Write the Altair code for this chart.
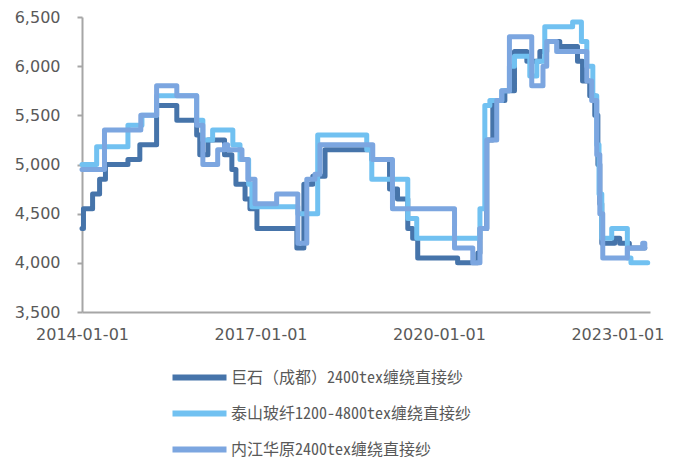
import altair as alt
import pandas as pd

series_names = [
    "巨石（成都）2400tex缠绕直接纱",
    "泰山玻纤1200-4800tex缠绕直接纱",
    "内江华原2400tex缠绕直接纱",
]
colors = ["#4674AA", "#71C1F1", "#7CA6E0"]

jushi_dates = [
    "2014-01-01", "2014-01-10", "2014-03-07", "2014-04-19", "2014-05-25", "2014-10-10",
    "2014-12-22", "2015-04-04", "2015-08-06", "2015-12-06", "2015-12-25", "2016-02-13",
    "2016-05-25", "2016-07-09", "2016-08-03", "2016-09-28", "2016-10-28", "2016-12-10",
    "2017-08-12", "2017-09-24", "2017-11-18", "2018-02-01", "2018-11-15", "2019-03-04",
    "2019-04-22", "2019-06-24", "2019-07-24", "2019-08-24", "2020-04-25", "2020-08-27",
    "2020-09-09", "2020-10-21", "2020-11-27", "2021-02-09", "2021-04-09", "2021-06-24",
    "2021-09-12", "2021-10-24", "2022-01-12", "2022-05-01", "2022-06-01", "2022-07-15",
    "2022-08-15", "2022-09-03", "2022-09-15", "2022-09-27", "2022-12-15", "2023-01-15",
    "2023-03-15", "2023-06-18",
]
jushi_values = [
    4350, 4550, 4700, 4850, 5000, 5050,
    5200, 5600, 5450, 5300, 5100, 5250,
    5100, 4950, 4800, 4650, 4550, 4350,
    4150, 4800, 4880, 5150, 5050, 4750,
    4650, 4350, 4250, 4050, 4000, 4100,
    4350, 5250, 5650, 5750, 6150, 6050,
    6150, 6250, 6200, 6050, 5850, 5700,
    5500, 5000, 4600, 4200, 4250, 4200,
    4150, 4150,
]

taishan_dates = [
    "2014-01-01", "2014-04-01", "2014-10-10", "2015-01-04", "2015-04-04", "2015-12-06",
    "2016-01-13", "2016-03-13", "2016-07-15", "2016-08-28", "2016-10-20", "2016-11-09",
    "2017-08-18", "2017-12-18", "2018-10-15", "2018-11-15", "2019-06-24", "2019-08-18",
    "2020-09-09", "2020-10-09", "2020-11-09", "2021-01-21", "2021-03-09", "2021-04-09",
    "2021-07-12", "2021-08-24", "2021-10-12", "2022-04-01", "2022-05-25", "2022-06-27",
    "2022-08-03", "2022-08-27", "2022-09-10", "2022-09-27", "2022-11-27", "2023-03-03",
    "2023-03-25", "2023-07-06",
]
taishan_values = [
    5000, 5180, 5400, 5500, 5700, 5450,
    5250, 5350, 5200, 5050, 4800, 4570,
    4500, 5300, 5150, 4850, 4450, 4250,
    4550, 5600, 5650, 5750, 6000, 6100,
    5900, 6050, 6400, 6450, 6250, 6000,
    5700, 5200, 4700, 4250, 4350, 4050,
    4000, 4000,
]

neijiang_dates = [
    "2014-01-01", "2014-05-19", "2014-12-28", "2015-04-04", "2015-08-06", "2015-12-06",
    "2016-01-13", "2016-04-13", "2016-05-25", "2016-06-13", "2016-09-09", "2016-10-15",
    "2016-11-28", "2017-04-10", "2017-08-18", "2017-10-12", "2017-12-01", "2018-01-01",
    "2018-11-21", "2019-03-22", "2020-04-06", "2020-07-27", "2020-09-09", "2020-10-21",
    "2020-12-21", "2021-01-21", "2021-03-09", "2021-07-24", "2021-10-01", "2021-10-24",
    "2021-12-24", "2022-06-27", "2022-07-27", "2022-08-27", "2022-09-15", "2022-10-03",
    "2023-03-03", "2023-06-05", "2023-06-18",
]
neijiang_values = [
    4950, 5350, 5500, 5800, 5700, 5400,
    5000, 5150, 5200, 5150, 5050, 4850,
    4600, 4700, 4200, 4850, 4900, 5200,
    5050, 4550, 4150, 4000, 4350, 5250,
    5650, 5750, 6300, 5800, 6000, 6250,
    6150, 5850, 5650, 5100, 4500, 4050,
    4150, 4200, 4150,
]

frames = []
for name, d, v in [
    (series_names[0], jushi_dates, jushi_values),
    (series_names[1], taishan_dates, taishan_values),
    (series_names[2], neijiang_dates, neijiang_values),
]:
    frames.append(pd.DataFrame({"date": d, "value": v, "series": name}))
df = pd.concat(frames, ignore_index=True)

x_ticks = [alt.DateTime(year=y, month=1, date=1, utc=True) for y in (2014, 2017, 2020, 2023)]

base = alt.Chart(df).mark_line(
    interpolate="step-after", strokeWidth=5, strokeCap="round", strokeJoin="round"
).encode(
    x=alt.X(
        "date:T",
        scale=alt.Scale(
            type="utc",
            domain=[alt.DateTime(year=2014, month=1, date=1, utc=True),
                    alt.DateTime(year=2023, month=7, date=20, utc=True)],
            nice=False,
        ),
        axis=alt.Axis(
            title=None, values=x_ticks, format="%Y-%m-%d", labelFlush=False,
            labelOverlap=False, ticks=False, labelPadding=14, grid=False,
        ),
    ),
    y=alt.Y(
        "value:Q",
        scale=alt.Scale(domain=[3500, 6500], nice=False, zero=False),
        axis=alt.Axis(
            title=None, values=[3500, 4000, 4500, 5000, 5500, 6000, 6500], format=",.0f",
            tickSize=5, labelPadding=17, grid=False,
        ),
    ),
    color=alt.Color(
        "series:N",
        scale=alt.Scale(domain=series_names, range=colors),
        legend=alt.Legend(
            title=None, orient="none", legendX=101, legendY=344, direction="vertical",
            symbolType="M-2,0H2", symbolSize=729, symbolStrokeWidth=6,
            labelOffset=15, rowPadding=7, labelFontSize=16,
            labelFont="Noto Sans Mono CJK SC, Noto Sans CJK SC", labelColor="#595959",
            labelLimit=500, padding=0,
        ),
    ),
)

layers = [base.transform_filter(alt.datum.series == n) for n in series_names]

chart = alt.layer(*layers).properties(
    width=568, height=295,
    autosize=alt.AutoSizeParams(type="none"),
    padding={"left": 74, "top": 9, "right": 25, "bottom": 147},
).configure_view(stroke=None).configure_axis(
    domainColor="#A6A6A6", tickColor="#A6A6A6", domainWidth=2, tickWidth=2,
    labelColor="#595959", labelFont="DejaVu Sans", labelFontSize=16,
)

chart.save("out.html", embed_options={"renderer": "svg", "actions": False})
